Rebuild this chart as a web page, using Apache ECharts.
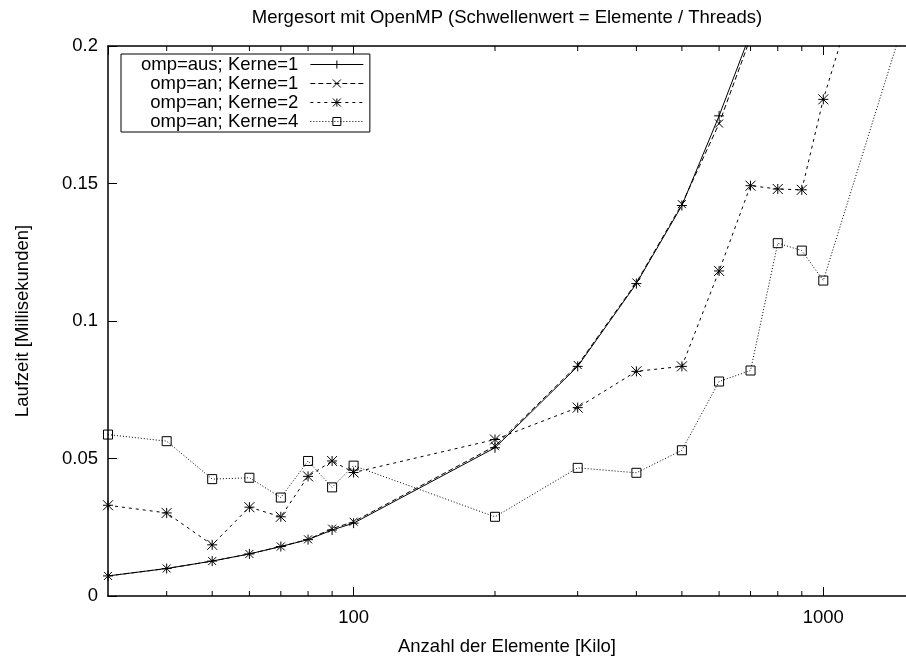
<!DOCTYPE html>
<html>
<head>
<meta charset="utf-8">
<script src="https://cdn.jsdelivr.net/npm/echarts@6/dist/echarts.min.js"></script>
<style>
html,body{margin:0;padding:0;background:#fff;}
#chart{width:906px;height:661px;}
</style>
</head>
<body>
<div id="chart"></div>
<script>
// ---- data ----
var sizes = [30, 40, 50, 60, 70, 80, 90, 100, 200, 300, 400, 500, 600, 700, 800, 900, 1000, 2000];
var ompAusK1 = [0.0073, 0.0100, 0.0127, 0.0153, 0.0180, 0.0205, 0.0240, 0.0265, 0.0539, 0.0835, 0.1136, 0.1420, 0.1746, 0.2047, 0.237, 0.269, 0.302, 0.640];
var ompAnK1  = [0.0073, 0.0100, 0.0127, 0.0153, 0.0180, 0.0206, 0.0245, 0.0270, 0.0545, 0.0840, 0.1140, 0.1425, 0.1718, 0.2030, 0.235, 0.267, 0.300, 0.635];
var ompAnK2  = [0.0330, 0.0302, 0.0186, 0.0323, 0.0288, 0.0435, 0.0491, 0.0449, 0.0569, 0.0685, 0.0817, 0.0835, 0.1182, 0.1492, 0.1480, 0.1477, 0.1806, 0.350];
var ompAnK4  = [0.0587, 0.0563, 0.0425, 0.0430, 0.0358, 0.0491, 0.0395, 0.0474, 0.0288, 0.0466, 0.0448, 0.0530, 0.0780, 0.0820, 0.1283, 0.1256, 0.1147, 0.280];
var seriesNames = ['omp=aus; Kerne=1', 'omp=an; Kerne=1', 'omp=an; Kerne=2', 'omp=an; Kerne=4'];
var minorTicks = [40, 50, 60, 70, 80, 90, 200, 300, 400, 500, 600, 700, 800, 900];
var xMajorLabels = [100, 1000];

function pairs(ys) { return sizes.map(function (x, i) { return [x, ys[i]]; }); }

var FONT = 'Liberation Sans, Arial, sans-serif';
var FS = 18.5;
var black = '#000';

function lineSeries(name, ys, symbol, size, dash) {
  return {
    name: name,
    type: 'line',
    data: pairs(ys),
    symbol: symbol,
    symbolSize: size,
    showAllSymbol: true,
    clip: true,
    lineStyle: { color: black, width: 1, type: dash },
    itemStyle: { color: 'transparent', borderColor: black, borderWidth: 1 },
    emphasis: { disabled: true },
    animation: false,
    z: 2
  };
}

var chart = echarts.init(document.getElementById('chart'), null, { renderer: 'canvas' });
var option = {
  backgroundColor: '#fff',
  animation: false,
  textStyle: { fontFamily: FONT, color: black },
  grid: { left: 108, top: 46, width: 807, height: 557, containLabel: false },
  legend: {
    data: seriesNames,
    orient: 'vertical',
    left: 121,
    top: 54,
    align: 'right',
    itemWidth: 53,
    itemHeight: 10,
    itemGap: 0,
    padding: [1, 6, 1, 20],
    borderColor: black,
    borderWidth: 1,
    backgroundColor: '#fff',
    selectedMode: false,
    lineStyle: { width: 1 },
    itemStyle: { borderWidth: 1 },
    textStyle: { fontFamily: FONT, fontSize: FS, color: black, lineHeight: 18.5, padding: [0, 7, 0, 0] }
  },
  xAxis: [
    {
      type: 'log', logBase: 10, min: 30, max: 1500, position: 'bottom',
      name: 'Anzahl der Elemente [Kilo]', nameLocation: 'middle', nameGap: 41,
      nameTextStyle: { fontFamily: FONT, fontSize: FS, color: black },
      axisLine: { show: true, onZero: false, lineStyle: { color: black, width: 1.5 } },
      axisTick: { show: true, inside: true, length: 9, lineStyle: { color: black, width: 1 } },
      axisLabel: {
        margin: 12, fontFamily: FONT, fontSize: FS, color: black,
        showMinLabel: false, showMaxLabel: false,
        formatter: function (v) { return xMajorLabels.indexOf(Math.round(v)) >= 0 ? String(Math.round(v)) : ''; }
      },
      splitLine: { show: false }, minorTick: { show: false }
    },
    {
      type: 'log', logBase: 10, min: 30, max: 1500, position: 'top',
      name: 'Mergesort mit OpenMP (Schwellenwert = Elemente / Threads)', nameLocation: 'middle', nameGap: 19,
      nameTextStyle: { fontFamily: FONT, fontSize: FS, color: black },
      axisLine: { show: true, onZero: false, lineStyle: { color: black, width: 1.5 } },
      axisTick: { show: true, inside: true, length: 9, lineStyle: { color: black, width: 1 } },
      axisLabel: { show: false },
      splitLine: { show: false }
    }
  ],
  yAxis: {
    type: 'value', min: 0, max: 0.2, interval: 0.05,
    name: 'Laufzeit [Millisekunden]', nameLocation: 'middle', nameGap: 76,
    nameTextStyle: { fontFamily: FONT, fontSize: FS, color: black },
    axisLine: { show: true, onZero: false, lineStyle: { color: black, width: 1.5 } },
    axisTick: { show: true, inside: true, length: 9, lineStyle: { color: black, width: 1 } },
    axisLabel: { margin: 10, fontFamily: FONT, fontSize: FS, color: black },
    splitLine: { show: false }
  },
  series: [
    lineSeries(seriesNames[0], ompAusK1, 'path://M0,5H10M5,0V10', 10, 'solid'),
    lineSeries(seriesNames[1], ompAnK1, 'path://M0,0L10,10M10,0L0,10', 8, [5, 3]),
    lineSeries(seriesNames[2], ompAnK2, 'path://M0,5H10M5,0V10M0,0L10,10M10,0L0,10', 10, [3, 4]),
    lineSeries(seriesNames[3], ompAnK4, 'rect', 9, [1, 2]),
    {
      type: 'custom', name: 'minorTicks', xAxisIndex: 0, yAxisIndex: 0, silent: true, z: 3,
      data: minorTicks.map(function (v) { return [v, 0]; }),
      encode: { x: 0, y: 1 },
      renderItem: function (params, api) {
        var v = api.value(0);
        var b = api.coord([v, 0]);
        var t = api.coord([v, 0.2]);
        return {
          type: 'group',
          children: [
            { type: 'line', shape: { x1: b[0], y1: b[1], x2: b[0], y2: b[1] - 5 }, style: { stroke: black, lineWidth: 1 } },
            { type: 'line', shape: { x1: t[0], y1: t[1], x2: t[0], y2: t[1] + 5 }, style: { stroke: black, lineWidth: 1 } }
          ]
        };
      }
    }
  ]
};
chart.setOption(option);
</script>
</body>
</html>
